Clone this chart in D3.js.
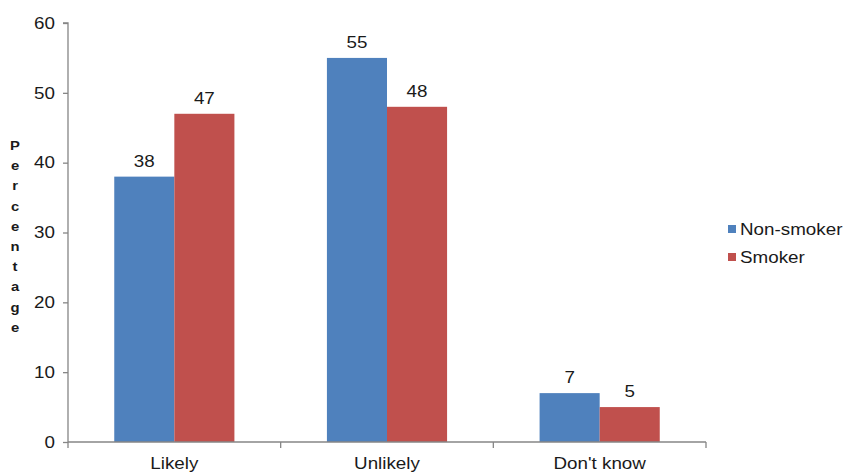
<!DOCTYPE html>
<html><head><meta charset="utf-8">
<script src="https://cdn.jsdelivr.net/npm/d3@7"></script>
<style>body{margin:0;background:#fff}svg{display:block;font-family:"Liberation Sans",Arial,sans-serif}</style>
</head><body><svg id="c" width="843" height="475"></svg>
<script>
const categories = ["Likely", "Unlikely", "Don't know"];
const seriesNames = ["Non-smoker", "Smoker"];
const nonSmoker = [38, 55, 7];
const smoker = [47, 48, 5];
const yTicks = [0, 10, 20, 30, 40, 50, 60];
const colors = ["#4F81BD", "#C0504D"];
const yTitle = "Percentage";

(function () {
const svg = d3.select("#c");
const fs = 16.5;
const k = 1.14; // horizontal stretch of text seen in the reference
const txt = "#1a1a1a";
const mLeft = 68, mRight = 706, mTop = 23, mBottom = 442;
const x = d3.scaleBand().domain(categories).range([mLeft, mRight]).paddingInner(0.435).paddingOuter(0.2175);
const xs = d3.scaleBand().domain(seriesNames).range([0, x.bandwidth()]);
const y = d3.scaleLinear().domain([0, 60]).range([mBottom, mTop]);
const xEdges = d3.scaleLinear().domain([0, categories.length]).range([mLeft, mRight]);

function place(sel, px, py) {
  return sel.attr("x", 0).attr("y", 0).attr("transform", `translate(${px},${py}) scale(${k},1)`);
}

const data = categories.map((c, i) => ({c, vals: [nonSmoker[i], smoker[i]]}));
const g = svg.append("g");
data.forEach(d => {
  d.vals.forEach((v, j) => {
    g.append("rect").attr("x", x(d.c) + xs(seriesNames[j])).attr("y", y(v))
      .attr("width", xs.bandwidth()).attr("height", y(0) - y(v)).attr("fill", colors[j]);
    place(g.append("text"), x(d.c) + xs(seriesNames[j]) + xs.bandwidth() / 2, y(v) - 10)
      .attr("text-anchor", "middle").attr("font-size", fs).attr("fill", txt).text(v);
  });
});

// y axis
const yAxis = d3.axisLeft(y).tickValues(yTicks).tickSize(5).tickPadding(8);
const ya = svg.append("g").attr("transform", `translate(${mLeft},0)`).call(yAxis);
ya.select(".domain").attr("stroke", "#868686").attr("stroke-width", 1.3).attr("d", `M-5,${mTop}H0V${mBottom}`);
ya.selectAll(".tick line").attr("stroke", "#868686").attr("stroke-width", 1.3);
ya.selectAll(".tick text").attr("font-size", fs).attr("fill", txt).attr("font-family", "Liberation Sans, Arial, sans-serif")
  .attr("x", 0).attr("transform", `translate(-13,0) scale(${k},1)`);

// x axis
const xa = svg.append("g").attr("transform", `translate(0,${mBottom})`);
xa.append("path").attr("d", `M${mLeft},0H${mRight}`).attr("stroke", "#868686").attr("stroke-width", 1.3).attr("fill", "none");
d3.range(categories.length + 1).forEach(i => {
  xa.append("line").attr("x1", xEdges(i)).attr("x2", xEdges(i)).attr("y1", 0).attr("y2", 6)
    .attr("stroke", "#868686").attr("stroke-width", 1.3);
});
categories.forEach(c => {
  place(xa.append("text"), x(c) + x.bandwidth() / 2, 27).attr("text-anchor", "middle")
    .attr("font-size", fs).attr("fill", txt).text(c);
});

// y title stacked letters
const letters = yTitle.split("");
letters.forEach((ch, i) => {
  place(svg.append("text"), 15, 150 + i * 20.2).attr("font-size", 13).attr("font-weight", "bold")
    .attr("fill", txt).attr("text-anchor", "middle").text(ch);
});

// legend
seriesNames.forEach((s, i) => {
  const ly = 229 + i * 28;
  svg.append("rect").attr("x", 728).attr("y", ly - 4).attr("width", 8).attr("height", 8).attr("fill", colors[i]);
  place(svg.append("text"), 740, ly + 6).attr("font-size", fs).attr("fill", txt).text(s);
});
})();
</script></body></html>
